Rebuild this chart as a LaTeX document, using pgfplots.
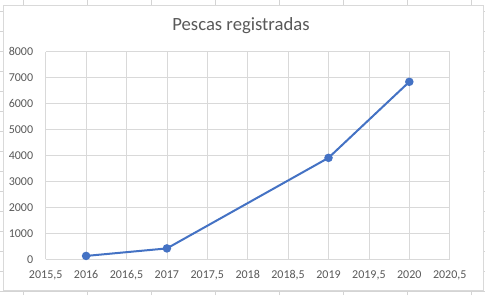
\documentclass[border=0pt]{standalone}
\usepackage{pgfplots}
\pgfplotsset{compat=1.18}
\usepackage{fontspec}
\setmainfont{Carlito}
\definecolor{exblue}{RGB}{68,114,196}
\definecolor{exgrid}{RGB}{217,217,217}
\definecolor{extext}{RGB}{89,89,89}
\definecolor{sheet}{RGB}{212,212,212}
\begin{document}
\begin{tikzpicture}[x=1bp,y=1bp]
\useasboundingbox (0,0) rectangle (485,295);
\fill[white] (0,0) rectangle (485,295);
\begin{scope}
\clip (0,0) rectangle (485,295);
\foreach \xx in {23.3,87.7,151.7,215.7,279.3,343.3,407.3,471.7} {\draw[sheet,line width=0.75bp] (\xx,0) -- (\xx,295);}
\foreach \k in {0,...,14} {\draw[sheet,line width=0.75bp] (0,{295-11.7-20*\k}) -- (485,{295-11.7-20*\k});}
\end{scope}
\filldraw[fill=white,draw=exgrid,line width=0.75bp] (3,5) rectangle (483,290);
\node[anchor=base,text=extext,font=\fontsize{18.67bp}{22bp}\selectfont] at (241,264.3) {Pescas registradas};
\begin{axis}[
  at={(45.7bp,35.7bp)}, anchor=south west,
  scale only axis, width=404bp, height=207.6bp,
  xmin=2015.5, xmax=2020.5, ymin=0, ymax=8000,
  axis line style={draw=none},
  xtick={2015.5,2016,2016.5,2017,2017.5,2018,2018.5,2019,2019.5,2020,2020.5},
  xticklabels={{2015,5},2016,{2016,5},2017,{2017,5},2018,{2018,5},2019,{2019,5},2020,{2020,5}},
  ytick={0,1000,...,8000},
  yticklabels={0,1000,2000,3000,4000,5000,6000,7000,8000},
  major tick length=0pt,
  grid=major,
  major grid style={exgrid,line width=0.75bp},
  tick label style={text=extext,font=\fontsize{12bp}{14bp}\selectfont},
  xticklabel style={anchor=base,yshift=-18.7bp},
  yticklabel style={anchor=east,inner sep=0pt,xshift=-12.4bp},
  clip=false,
]
\addplot[exblue,line width=2bp,mark=*,mark size=3.2bp,mark options={fill=exblue,draw=exblue}] coordinates {
  (2016,130) (2017,420) (2019,3910) (2020,6840)
};
\end{axis}
\end{tikzpicture}
\end{document}
